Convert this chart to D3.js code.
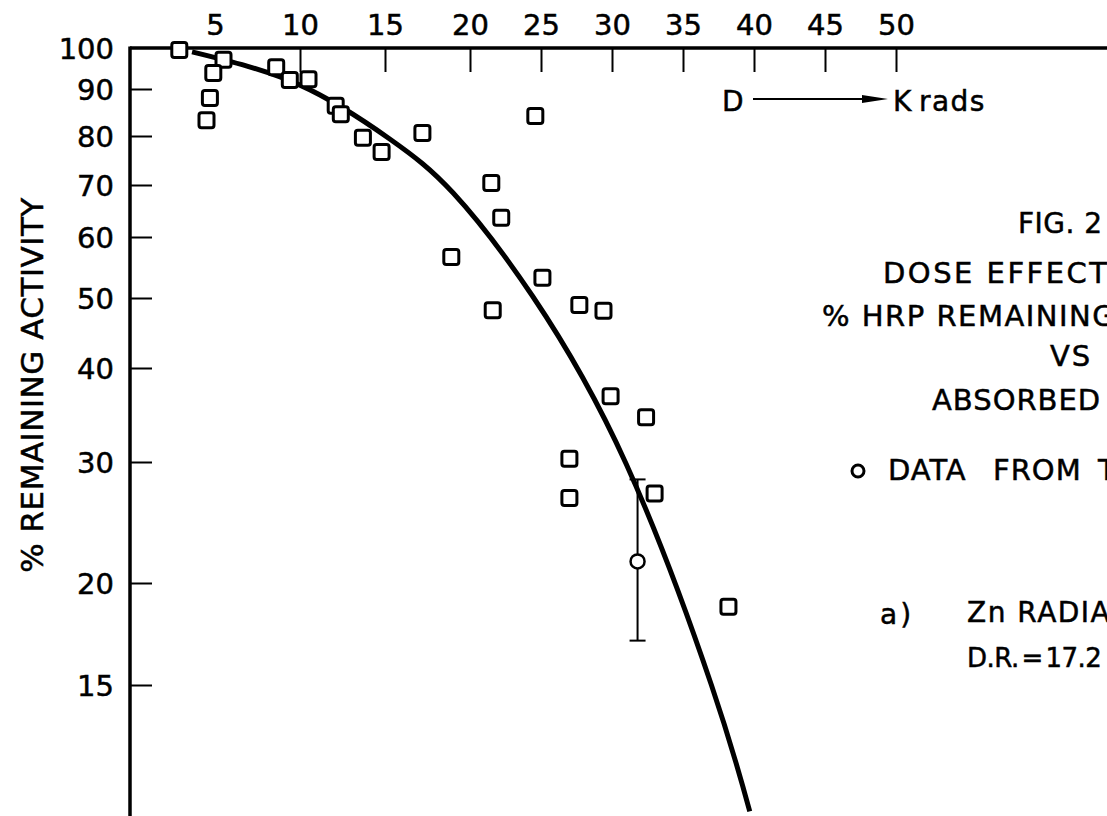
<!DOCTYPE html>
<html>
<head>
<meta charset="utf-8">
<script src="https://cdn.jsdelivr.net/npm/d3@7"></script>
<style>
  body { margin: 0; background: #fff; }
  svg { display: block; }
  text { font-family: "DejaVu Sans", sans-serif; fill: #000; stroke: #000; stroke-width: 0.5; }
</style>
</head>
<body>
<svg id="chart" width="1107" height="816"></svg>
<script>
// dose (Krads) and % remaining activity
var doseSq = [2.9, 5.5, 4.9, 4.7, 4.5, 8.6, 9.4, 10.5, 12.1, 12.4, 13.7, 14.8, 17.2,
  21.5, 22.2, 18.9, 21.6, 24.6, 25.1, 27.7, 29.4, 29.9, 32.4, 27.0, 27.0, 33.0, 38.2]
var activitySq = [99.5, 97.0, 93.8, 88.0, 83.2, 95.2, 92.1, 92.3, 86.3, 84.5, 79.6, 76.6, 80.6,
  70.4, 63.5, 56.5, 48.1, 84.1, 53.1, 48.9, 48.0, 36.7, 34.4, 30.3, 26.6, 27.0, 18.7]

// open circle with error bar (other data)
var doseCirc = [31.8]
var activityCirc = [21.5]
var errLow = [17.0]
var errHigh = [28.3]

// drawn dose-effect curve
var curveDose = [3.65, 10.0, 15.3, 19.0, 24.4, 31.0, 37.0, 39.7]
var curveAct = [99.0, 90.9, 79.3, 68.4, 50.3, 29.8, 15.0, 10.5]

var xTicks = [5, 10, 15, 20, 25, 30, 35, 40, 45, 50]
var yTicks = [100, 90, 80, 70, 60, 50, 40, 30, 20, 15]

var svg = d3.select("#chart")

// hand drawn axes: scale is stretched a little differently in parts
var x = d3.scaleLinear()
  .domain([0, 20, 55])
  .range([130, 470, 967])

var y = d3.scaleLog()
  .domain(yTicks)
  .range([48, 89, 136, 185, 237, 298, 368, 462, 583, 685])

// x axis on top
var xAxis = svg.append("g")
  .attr("transform", "translate(0,48)")
  .call(d3.axisTop(x).tickValues(xTicks).tickSize(-24).tickPadding(13).tickSizeOuter(0))
xAxis.select(".domain").remove()
xAxis.selectAll(".tick line").attr("stroke-width", 2)
  .filter(function(d){ return d == 5 }).remove()
xAxis.selectAll(".tick text").attr("font-size", 29).attr("font-family", "DejaVu Sans")
  .attr("fill", "#000")

// y axis on left
var yAxis = svg.append("g")
  .attr("transform", "translate(130,0)")
  .call(d3.axisLeft(y).tickValues(yTicks).tickSize(-22).tickPadding(16).tickSizeOuter(0))
yAxis.select(".domain").remove()
yAxis.selectAll(".tick line").attr("stroke-width", 2)
  .filter(function(d){ return d == 100 }).remove()
yAxis.selectAll(".tick text").attr("font-size", 29).attr("font-family", "DejaVu Sans")
  .attr("fill", "#000").attr("dy", "0.36em")

svg.append("line").attr("x1", 130).attr("x2", 1107).attr("y1", 48).attr("y2", 48)
  .attr("stroke", "#000").attr("stroke-width", 3.5)
svg.append("line").attr("x1", 130).attr("x2", 130).attr("y1", 46.5).attr("y2", 816)
  .attr("stroke", "#000").attr("stroke-width", 3.5)

svg.append("text")
  .attr("transform", "translate(43,385) rotate(-90)")
  .attr("text-anchor", "middle")
  .attr("font-size", 31)
  .attr("letter-spacing", 0.5)
  .text("% REMAINING ACTIVITY")

// curve
var line = d3.line()
  .x(function(d){ return x(d[0]) })
  .y(function(d){ return y(d[1]) })
  .curve(d3.curveNatural)

svg.append("path")
  .datum(d3.zip(curveDose, curveAct))
  .attr("d", line)
  .attr("fill", "none")
  .attr("stroke", "#000")
  .attr("stroke-width", 5)

// square points
var sq = 15
svg.selectAll("rect.pt")
  .data(d3.zip(doseSq, activitySq))
  .enter()
  .append("rect")
  .attr("class", "pt")
  .attr("x", function(d){ return x(d[0]) - sq/2 })
  .attr("y", function(d){ return y(d[1]) - sq/2 })
  .attr("width", sq).attr("height", sq)
  .attr("rx", 2.5)
  .attr("fill", "#fff")
  .attr("stroke", "#000")
  .attr("stroke-width", 3)

// circle with error bar
var circ = d3.range(doseCirc.length).map(function(i){
  return { d: doseCirc[i], a: activityCirc[i], lo: errLow[i], hi: errHigh[i] }
})
var eb = svg.selectAll("g.eb").data(circ).enter().append("g").attr("class", "eb")
eb.append("line")
  .attr("x1", function(d){ return x(d.d) }).attr("x2", function(d){ return x(d.d) })
  .attr("y1", function(d){ return y(d.hi) }).attr("y2", function(d){ return y(d.lo) })
  .attr("stroke", "#000").attr("stroke-width", 2)
;["hi", "lo"].forEach(function(k){
  eb.append("line")
    .attr("x1", function(d){ return x(d.d) - 8 }).attr("x2", function(d){ return x(d.d) + 8 })
    .attr("y1", function(d){ return y(d[k]) }).attr("y2", function(d){ return y(d[k]) })
    .attr("stroke", "#000").attr("stroke-width", 2)
})
eb.append("circle")
  .attr("cx", function(d){ return x(d.d) }).attr("cy", function(d){ return y(d.a) })
  .attr("r", 7)
  .attr("fill", "#fff").attr("stroke", "#000").attr("stroke-width", 2.5)

// D -> Krads label
svg.append("text").attr("x", 722).attr("y", 111).attr("font-size", 28).text("D")
svg.append("line").attr("x1", 753).attr("x2", 866).attr("y1", 99).attr("y2", 99)
  .attr("stroke", "#000").attr("stroke-width", 2)
svg.append("path").attr("d", "M862,95 L888,99 L862,103 Z").attr("fill", "#000")
var kr = svg.append("text").attr("x", 893).attr("y", 111).attr("font-size", 28)
  .attr("letter-spacing", 1.5)
kr.append("tspan").text("K")
kr.append("tspan").attr("dx", 6).text("rads")

// figure notes on the right
var notes = [
  { t: "FIG. 2", x: 1018, y: 233, s: 28, ls: 0.5 },
  { t: "DOSE EFFECT", x: 883, y: 283, s: 29, ls: 2.5 },
  { t: "% HRP REMAINING", x: 822, y: 326, s: 29, ls: 1.5 },
  { t: "VS", x: 1050, y: 366, s: 29, ls: 2 },
  { t: "ABSORBED", x: 932, y: 410, s: 29, ls: 1 },
  { t: "DATA", x: 888, y: 480, s: 29, ls: 1 },
  { t: "FROM", x: 993, y: 480, s: 29, ls: 1 },
  { t: "T", x: 1098, y: 480, s: 29, ls: 1 },
  { t: "a)", x: 880, y: 624, s: 28, ls: 3 },
  { t: "Zn RADIA", x: 967, y: 622, s: 28, ls: 1.5 },
  { t: "D.R. = 17.2", x: 967, y: 667, s: 26, ls: -0.5 }
]
svg.selectAll("text.note").data(notes).enter().append("text")
  .attr("class", "note")
  .attr("x", function(d){ return d.x }).attr("y", function(d){ return d.y })
  .attr("font-size", function(d){ return d.s })
  .attr("letter-spacing", function(d){ return d.ls })
  .attr("word-spacing", function(d){ return d.ls < 0 ? -5 : 0 })
  .text(function(d){ return d.t })

svg.append("circle").attr("cx", 858).attr("cy", 471).attr("r", 6)
  .attr("fill", "none").attr("stroke", "#000").attr("stroke-width", 3)
</script>
</body>
</html>
